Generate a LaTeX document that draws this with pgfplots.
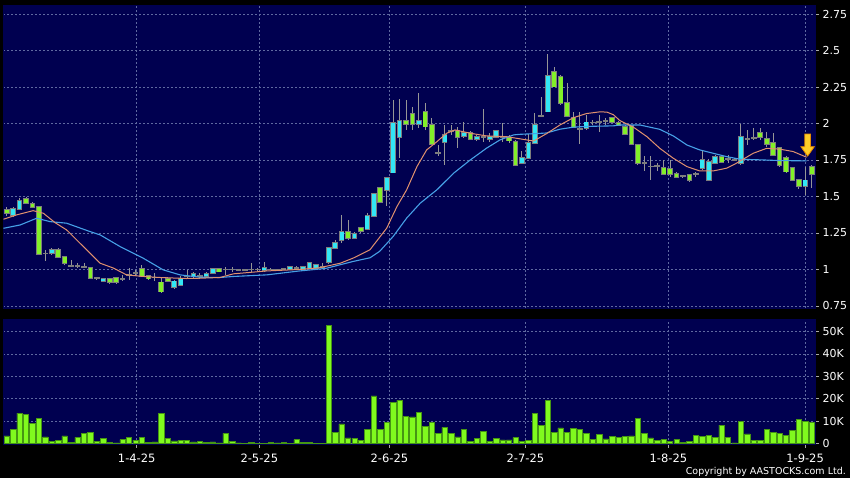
\documentclass[border=0pt]{standalone}
\usepackage{pgfplots}
\pgfplotsset{compat=1.18}
\usepackage{pgfplotstable}
\usepackage{fontspec}
\setmainfont{DejaVu Sans}

\definecolor{navy}{RGB}{0,0,80}
\definecolor{gridc}{RGB}{95,105,160}
\definecolor{upc}{RGB}{50,230,245}
\definecolor{dnc}{RGB}{130,240,40}
\definecolor{wickc}{RGB}{150,150,150}
\definecolor{bordc}{RGB}{125,125,125}
\definecolor{maA}{RGB}{225,145,110}
\definecolor{maB}{RGB}{70,160,230}
\definecolor{volc}{RGB}{128,250,30}
\definecolor{voledge}{RGB}{70,150,20}
\definecolor{tickc}{RGB}{170,170,170}
\definecolor{arrowf}{RGB}{255,205,40}
\definecolor{arrowd}{RGB}{230,140,0}

\pgfplotstableread{
i o h l c
0 1.408 1.430 1.367 1.385
1 1.374 1.430 1.360 1.412
2 1.412 1.488 1.410 1.472
3 1.480 1.499 1.453 1.458
4 1.449 1.465 1.420 1.426
5 1.426 1.430 1.100 1.107
6 1.110 1.134 1.055 1.110
7 1.110 1.146 1.100 1.132
8 1.134 1.146 1.078 1.084
9 1.084 1.090 1.032 1.043
10 1.025 1.066 1.016 1.025
11 1.025 1.043 1.009 1.025
12 1.020 1.043 1.009 1.020
13 1.009 1.016 0.934 0.940
14 0.940 0.950 0.929 0.940
15 0.918 0.940 0.911 0.936
16 0.934 0.940 0.902 0.915
17 0.940 0.947 0.902 0.913
18 0.938 0.963 0.918 0.938
19 0.963 1.009 0.929 0.963
20 0.979 0.997 0.963 0.979
21 1.002 1.032 0.950 0.952
22 0.956 0.963 0.929 0.938
23 0.945 0.975 0.918 0.945
24 0.911 0.940 0.838 0.849
25 0.936 0.945 0.913 0.918
26 0.879 0.925 0.865 0.918
27 0.893 0.952 0.888 0.934
28 0.952 0.997 0.934 0.952
29 0.952 0.986 0.940 0.970
30 0.956 0.975 0.934 0.956
31 0.957 0.986 0.952 0.970
32 0.975 1.008 0.970 1.002
33 1.002 1.010 0.980 0.986
34 1.000 1.020 0.963 1.000
35 1.000 1.016 0.986 1.000
36 0.995 1.005 0.990 0.995
37 0.997 1.005 0.990 0.997
38 1.000 1.047 0.986 1.000
39 1.000 1.010 0.990 1.000
40 0.997 1.054 0.986 1.011
41 1.000 1.010 0.993 1.000
42 1.000 1.005 0.995 1.000
43 1.002 1.010 0.995 1.002
44 1.002 1.025 0.997 1.020
45 1.009 1.025 0.993 1.009
46 1.002 1.025 0.997 1.020
47 1.009 1.047 1.000 1.043
48 1.009 1.036 1.000 1.032
49 1.020 1.043 1.009 1.020
50 1.048 1.150 1.040 1.146
51 1.146 1.200 1.140 1.180
52 1.199 1.374 1.180 1.260
53 1.260 1.340 1.205 1.214
54 1.214 1.255 1.210 1.244
55 1.283 1.290 1.250 1.261
56 1.280 1.385 1.273 1.366
57 1.368 1.520 1.360 1.516
58 1.557 1.567 1.455 1.459
59 1.546 1.630 1.432 1.625
60 1.664 2.161 1.660 2.006
61 1.906 2.166 1.762 2.020
62 2.020 2.161 1.956 1.997
63 2.063 2.110 1.956 1.997
64 1.997 2.207 1.970 2.020
65 2.077 2.138 1.956 1.979
66 1.990 2.036 1.853 1.860
67 1.800 1.853 1.774 1.800
68 1.876 1.990 1.717 1.922
69 1.951 1.990 1.922 1.951
70 1.951 1.979 1.830 1.910
71 1.915 2.013 1.899 1.937
72 1.933 1.951 1.888 1.892
73 1.892 1.920 1.880 1.906
74 1.906 2.097 1.876 1.906
75 1.892 1.933 1.876 1.906
76 1.910 1.956 1.899 1.951
77 1.906 2.006 1.876 1.906
78 1.899 1.920 1.865 1.883
79 1.876 1.890 1.706 1.717
80 1.728 1.810 1.724 1.763
81 1.763 1.930 1.756 1.865
82 1.865 2.070 1.860 1.990
83 2.052 2.180 2.043 2.052
84 2.082 2.476 2.082 2.326
85 2.355 2.385 2.248 2.253
86 2.317 2.333 2.127 2.139
87 2.139 2.276 2.047 2.052
88 2.036 2.082 1.968 1.975
89 1.961 2.082 1.860 1.961
90 1.968 2.059 1.956 2.007
91 2.007 2.025 1.990 2.007
92 2.013 2.059 1.945 2.013
93 2.020 2.036 1.990 2.020
94 2.036 2.045 2.010 2.013
95 2.006 2.020 1.985 1.990
96 1.975 1.990 1.922 1.929
97 1.984 1.990 1.855 1.861
98 1.854 1.860 1.716 1.728
99 1.728 1.774 1.672 1.728
100 1.706 1.774 1.614 1.706
101 1.710 1.728 1.672 1.710
102 1.694 1.750 1.648 1.655
103 1.688 1.750 1.636 1.655
104 1.655 1.665 1.625 1.632
105 1.641 1.650 1.630 1.641
106 1.648 1.655 1.600 1.614
107 1.655 1.670 1.636 1.655
108 1.694 1.819 1.682 1.751
109 1.614 1.755 1.603 1.739
110 1.732 1.785 1.728 1.773
111 1.773 1.780 1.730 1.739
112 1.755 1.785 1.728 1.755
113 1.751 1.765 1.740 1.751
114 1.728 1.997 1.716 1.906
115 1.892 1.956 1.853 1.892
116 1.899 1.967 1.888 1.899
117 1.933 1.967 1.888 1.906
118 1.892 1.944 1.842 1.860
119 1.865 1.933 1.774 1.785
120 1.830 1.842 1.705 1.716
121 1.762 1.774 1.660 1.671
122 1.694 1.705 1.603 1.614
123 1.615 1.620 1.550 1.570
124 1.570 1.705 1.511 1.610
125 1.700 1.716 1.558 1.655
}\ohlc

\pgfplotstableread{
i v
0 3.4
1 6.3
2 13.6
3 13.1
4 9.0
5 11.2
6 3.0
7 0.9
8 1.5
9 3.4
10 0.6
11 2.8
12 4.5
13 4.8
14 0.9
15 2.2
16 0.6
17 0.3
18 1.8
19 2.8
20 1.5
21 2.8
22 0.4
23 0.7
24 13.4
25 2.2
26 1.2
27 1.5
28 1.3
29 0.7
30 1.0
31 0.6
32 0.7
33 0.3
34 4.5
35 1.0
36 0.3
37 0.1
38 0.6
39 0.1
40 0.1
41 0.4
42 0.3
43 0.4
44 0.1
45 1.8
46 0.4
47 0.4
48 0.1
49 0.1
50 52.8
51 5.1
52 8.8
53 2.5
54 2.4
55 1.3
56 6.4
57 21.3
58 6.3
59 9.3
60 18.4
61 19.4
62 12.2
63 11.9
64 14.0
65 7.5
66 9.6
67 4.6
68 7.2
69 4.6
70 3.0
71 6.4
72 1.0
73 2.2
74 5.4
75 0.9
76 2.2
77 1.6
78 1.6
79 2.7
80 1.0
81 1.5
82 13.6
83 8.1
84 19.4
85 4.9
86 7.0
87 4.9
88 6.9
89 6.4
90 4.5
91 1.8
92 4.2
93 2.1
94 3.3
95 2.8
96 3.1
97 3.4
98 11.2
99 4.5
100 2.5
101 1.5
102 1.8
103 1.0
104 1.8
105 0.6
106 0.9
107 3.6
108 3.1
109 3.6
110 2.8
111 8.2
112 2.7
113 0.3
114 10.0
115 4.3
116 1.5
117 1.5
118 6.3
119 4.8
120 4.6
121 3.7
122 6.0
123 10.7
124 10.0
125 9.6
}\vol

\pgfplotsset{panel/.style={
  scale only axis, anchor=south west,
  width=811.7pt,
  xmin=-0.53, xmax=125.5,
  axis background/.style={fill=navy},
  axis line style={draw=navy, line width=0.1pt},
  xtick={20.19,39.22,59.41,80.53,102.73,123.96},
  xtick pos=bottom, ytick pos=right, yticklabel pos=right,
  grid=major,
  major grid style={draw=gridc, line width=0.6pt, dash pattern=on 2pt off 2pt},
  tick align=outside, major tick length=4pt,
  tick style={draw=tickc, line width=0.8pt},
  ticklabel style={text=white, font=\fontsize{11}{13}\selectfont},
},
candle/.style={draw=none, mark=none, error bars/.cd, y dir=both, y explicit, error mark=none},
}

\begin{document}
\begin{tikzpicture}
\fill[black] (0,0) rectangle (850pt,478pt);
\useasboundingbox (0,0) rectangle (850pt,478pt);

% price panel
\begin{axis}[panel, at={(3.3pt,170pt)}, height=303pt,
  ymin=0.736, ymax=2.812,
  ytick={0.75,1,1.25,1.5,1.75,2,2.25,2.5,2.75},
  yticklabels={0.75,1,1.25,1.5,1.75,2,2.25,2.5,2.75},
  xticklabels={},
  major x tick style={draw=none},
]
% wicks
\addplot[candle, error bar style={line width=1pt, draw=wickc}]
  table[x=i, y expr={(\thisrow{h}+\thisrow{l})/2}, y error expr={(\thisrow{h}-\thisrow{l})/2}] {\ohlc};
% body borders
\addplot[candle, error bar style={line width=5.6pt, draw=bordc}]
  table[x=i, y expr={(\thisrow{o}+\thisrow{c})/2}, y error expr={abs(\thisrow{c}-\thisrow{o})/2+0.0062}] {\ohlc};
% up bodies
\addplot[restrict expr to domain={\thisrow{c}-\thisrow{o}}{0.00001:100},
  candle, error bar style={line width=3.8pt, draw=upc}]
  table[x=i, y expr={(\thisrow{o}+\thisrow{c})/2}, y error expr={abs(\thisrow{c}-\thisrow{o})/2}] {\ohlc};
% down bodies
\addplot[restrict expr to domain={\thisrow{o}-\thisrow{c}}{0.00001:100},
  candle, error bar style={line width=3.8pt, draw=dnc}]
  table[x=i, y expr={(\thisrow{o}+\thisrow{c})/2}, y error expr={abs(\thisrow{c}-\thisrow{o})/2}] {\ohlc};
% moving averages
\addplot[maB, line width=1.1pt] coordinates {
(-0.5,1.282) (2.1,1.305) (4.65,1.351) (6.7,1.328) (9.3,1.317) (12.9,1.26) (14.5,1.237)
(17.6,1.157) (21.2,1.077) (24.3,0.997) (26.9,0.963) (30,0.947) (33.1,0.945) (35.2,0.952)
(40.4,0.963) (45.5,0.99) (48.6,1.003) (49.7,1.009) (53.8,1.055) (56.4,1.08) (57.9,1.124)
(60,1.226) (62.1,1.352) (64.2,1.454) (66.8,1.546) (69.4,1.66) (72,1.751) (74.5,1.831)
(76.6,1.888) (78.7,1.922) (79.7,1.926) (81.8,1.93) (83.8,1.935) (85.9,1.961) (88,1.975)
(90,1.98) (94.2,1.984) (95.2,1.99) (98.3,1.99) (101.4,1.96) (103.5,1.915) (105.6,1.853)
(107.6,1.819) (109.7,1.796) (111.8,1.773) (113.9,1.755) (117,1.751) (120.1,1.746) (124.2,1.744)
};
\addplot[maA, line width=1pt] coordinates {
(-0.5,1.344) (1.55,1.374) (4.1,1.403) (5.7,1.385) (7.5,1.321) (9.3,1.271) (11.9,1.157)
(14.5,1.043) (16.6,1.009) (18.6,0.963) (21.2,0.952) (23.8,0.945) (27.9,0.938) (30,0.94)
(33.1,0.945) (35.2,0.97) (40.4,0.99) (45.5,1.0) (48.6,1.012) (51.8,1.043) (53.8,1.078)
(56.4,1.135) (59,1.283) (60.6,1.432) (62.1,1.546) (63.7,1.705) (65.2,1.819) (66.8,1.876)
(68.3,1.933) (69.6,1.956) (72,1.933) (74.5,1.915) (77.6,1.91) (79.7,1.895) (81.8,1.88)
(83.8,1.93) (85.9,1.99) (88,2.04) (90,2.068) (92.1,2.08) (93.2,2.078) (94.2,2.06)
(95.2,2.02) (97.3,1.975) (99.4,1.91) (101.4,1.83) (103.5,1.762) (105.6,1.705) (107.6,1.675)
(109.7,1.675) (111.8,1.694) (113.3,1.728) (115.9,1.796) (118,1.83) (120.1,1.824)
(122.1,1.808) (124.2,1.769)
};
% arrow marker
\addplot[fill=arrowf, draw=arrowd, line width=0.8pt] coordinates {
(123.91,1.928) (124.79,1.928) (124.79,1.841) (125.39,1.841) (124.35,1.777) (123.31,1.841) (123.91,1.841)
} -- cycle;
\end{axis}

% volume panel
\begin{axis}[panel, at={(3.3pt,34pt)}, height=125pt,
  ymin=-0.2, ymax=55.6,
  ytick={0,10,20,30,40,50},
  yticklabels={0,10K,20K,30K,40K,50K},
  xticklabels={1-4-25,2-5-25,2-6-25,2-7-25,1-8-25,1-9-25},
  xticklabel style={font=\fontsize{11.5}{13}\selectfont, yshift=-2pt},
]
\addplot[ybar, bar width=5.4pt, fill=volc, draw=voledge, line width=0.6pt] table[x=i, y=v] {\vol};
\end{axis}

\node[anchor=base east, text=white, font=\fontsize{9.5}{11}\selectfont, inner sep=0pt] at (846pt,3pt) {Copyright by AASTOCKS.com Ltd.};
\end{tikzpicture}
\end{document}
